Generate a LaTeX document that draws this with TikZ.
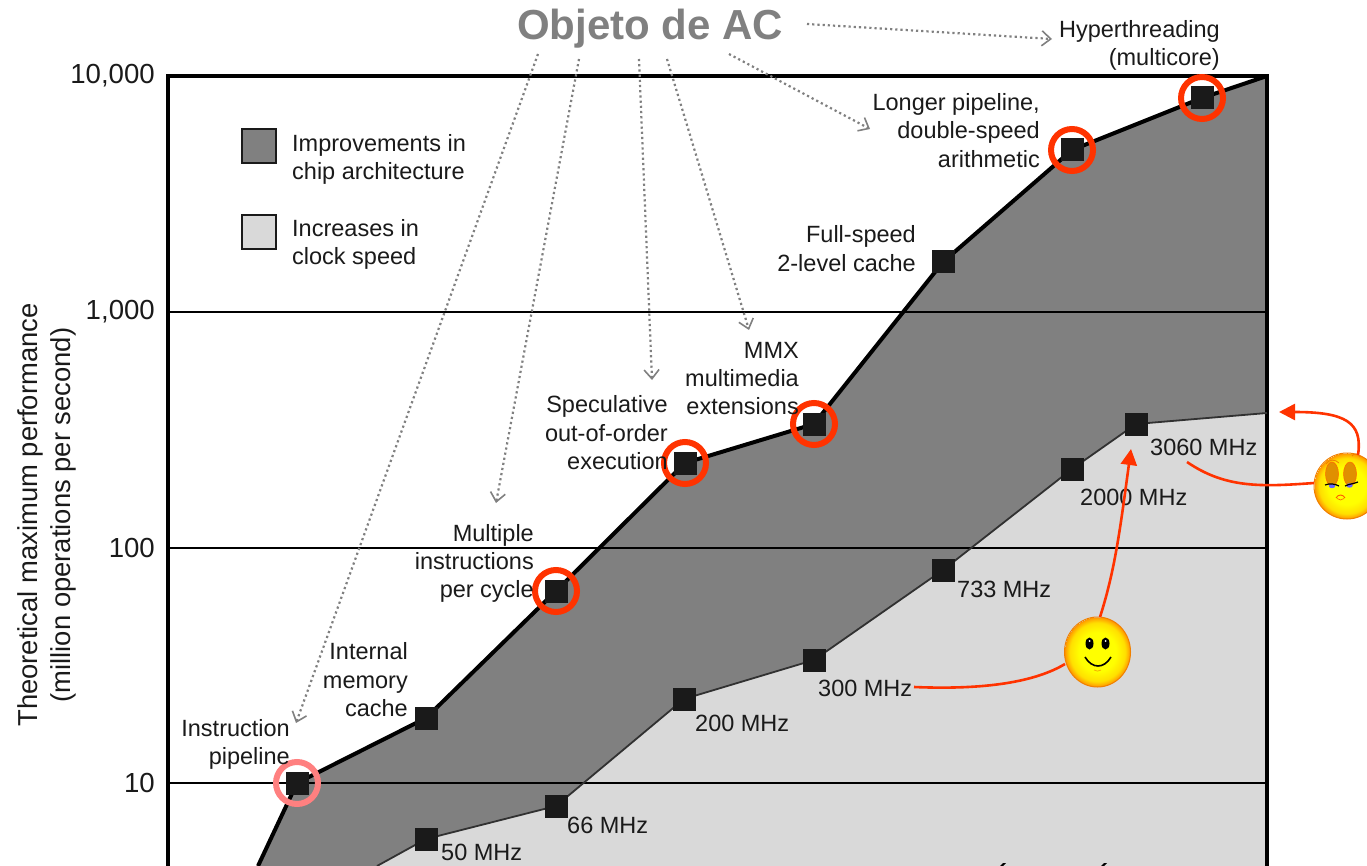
\documentclass[tikz,border=0pt]{standalone}
\usepackage{fontspec}
\setmainfont{Liberation Sans}
\usetikzlibrary{arrows.meta,shapes.geometric}
\definecolor{darkarea}{HTML}{808080}
\definecolor{lightarea}{HTML}{D9D9D9}
\definecolor{inkc}{HTML}{1A1A1A}
\definecolor{redc}{HTML}{FF3300}
\definecolor{pinkc}{HTML}{FF8080}
\definecolor{facee}{HTML}{F08000}
\definecolor{lidc}{HTML}{E09000}
\pgfdeclareradialshading{smile}{\pgfpoint{0bp}{0bp}}{color(0bp)=(yellow); color(14bp)=(yellow); color(21bp)=(yellow!75!orange); color(25bp)=(orange!85!yellow)}
\tikzset{
  x=1pt,y=-1pt,
  lbl/.style={inner sep=0pt,yshift=-0.6pt,font=\fontsize{23.5}{28.3}\selectfont,text=inkc},
  lblr/.style={lbl,align=right,anchor=east},
  lbll/.style={lbl,align=left,anchor=west},
  tick/.style={inner sep=0pt,yshift=-1pt,anchor=east,font=\fontsize{27.6}{30}\selectfont,text=inkc},
  axlab/.style={inner sep=0pt,rotate=90,font=\fontsize{27.4}{30}\selectfont,text=inkc},
  sq/.style={rectangle,fill=inkc,minimum size=23pt,inner sep=0pt},
  ring/.style={circle,draw=redc,line width=6pt,minimum size=42pt,inner sep=0pt},
  grid line/.style={line width=2pt,black},
  frame line/.style={line width=4pt,black},
  dots/.style={draw=darkarea,line width=2.2pt,dash pattern=on 2.2pt off 3pt,-{Straight Barb[length=9pt,width=15pt,line width=1.6pt]}},
  redline/.style={draw=redc,line width=2.6pt},
  redarrow/.style={redline,-{Triangle[length=16pt,width=16pt]}},
  face/.style={ellipse,shading=smile,draw=facee,line width=1pt,inner sep=0pt},
}
\begin{document}
\begin{tikzpicture}
\useasboundingbox (0,0) rectangle (1367,866);
% data points
\node[sq] (t1) at (297,783) {}; 
\coordinate (t2) at (426,718);
\coordinate (t3) at (556,591);
\coordinate (t4) at (685,463);
\coordinate (t5) at (814,424);
\coordinate (t6) at (943,262);
\coordinate (t7) at (1072,150);
\coordinate (t8) at (1202,98);
% areas
\fill[lightarea] (168,76) rectangle (1267,880);
\fill[darkarea] (258,866) -- (297,783) -- (t2) -- (t3) -- (t4) -- (t5) -- (t6) -- (t7) -- (t8) -- (1267,76) -- (1267,413) -- (1136,424) -- (1072,469) -- (943,570) -- (814,660) -- (684,699) -- (556,806) -- (426,839) -- (377,866) -- cycle;
\fill[white] (168,76) -- (1267,76) -- (t8) -- (t7) -- (t6) -- (t5) -- (t4) -- (t3) -- (t2) -- (297,783) -- (258,866) -- (168,866) -- cycle;
% grid
\coordinate (gl1) at (168,312); \coordinate (gr1) at (1267,312);
\coordinate (gl2) at (168,548); \coordinate (gr2) at (1267,548);
\coordinate (gl3) at (168,783); \coordinate (gr3) at (1267,783);
\draw[grid line] (gl1) -- (gr1);
\draw[grid line] (gl2) -- (gr2);
\draw[grid line] (gl3) -- (gr3);
% frame
\draw[frame line] (168,866) -- (168,76) -- (1267,76) -- (1267,866);
% curves
\coordinate (tstart) at (258,866);
\coordinate (tend) at (1267,76);
\coordinate (bstart) at (377,866);
\coordinate (bend) at (1267,413);
\draw[line width=4pt,black,line join=round] (tstart) -- (t1.center) -- (t2) -- (t3) -- (t4) -- (t5) -- (t6) -- (t7) -- (t8) -- (tend);
\draw[line width=1.8pt,inkc!90!white,line join=round] (bstart) -- (426,839) -- (556,806) -- (684,699) -- (814,660) -- (943,570) -- (1072,469) -- (1136,424) -- (bend);
% squares
\node[sq] at (t1) {};
\foreach \n/\p in {a2/t2,a3/t3,a4/t4,a5/t5,a6/t6,a7/t7,a8/t8}{\node[sq] (\n) at (\p) {};}
\foreach \n/\x/\y in {b1/426/839,b2/556/806,b3/684/699,b4/814/660,b5/943/570,b6/1072/469,b7/1136/424}{\node[sq] (\n) at (\x,\y) {};}
% rings
\node[ring,draw=pinkc] (r1) at (t1) {};
\foreach \n/\p in {r3/t3,r4/t4,r5/t5,r7/t7,r8/t8}{\node[ring] (\n) at (\p) {};}
% legend
\node[rectangle,draw=inkc,line width=1.6pt,fill=darkarea,minimum size=34pt,inner sep=0pt] (legd) at (259,146) {};
\node[rectangle,draw=inkc,line width=1.6pt,fill=lightarea,minimum size=34pt,inner sep=0pt] (legl) at (259,232) {};
\node[lbll] (legdt) at (292,159) {Improvements in\\chip architecture};
\node[lbll] (leglt) at (292,244) {Increases in\\clock speed};
% ticks
\node[tick] (y4) at (155,75) {10,000};
\node[tick] (y3) at (155,311) {1,000};
\node[tick] (y2) at (155,547) {100};
\node[tick] (y1) at (155,782) {10};
\node[axlab] (ya) at (30,515) {Theoretical maximum performance};
\node[axlab] (yb) at (63,515) {(million operations per second)};
% feature labels
\node[lblr] (lh) at (1220,45) {Hyperthreading\\(multicore)};
\node[lblr] (ll) at (1040,130) {Longer pipeline,\\double-speed\\arithmetic};
\node[lblr] (lf) at (916,248) {Full-speed\\2-level cache};
\node[lblr] (lm) at (799,378) {MMX\\multimedia\\extensions};
\node[lblr] (ls) at (668,432) {Speculative\\out-of-order\\execution};
\node[lblr] (lc) at (534,563) {Multiple\\instructions\\per cycle};
\node[lblr] (li) at (408,679) {Internal\\memory\\cache};
\node[lblr] (lp) at (290,744) {Instruction\\pipeline};
% clock labels
\node[lbll] (m1) at (441,852) {50 MHz};
\node[lbll] (m2) at (567,825) {66 MHz};
\node[lbll] (m3) at (695,723) {200 MHz};
\node[lbll] (m4) at (818,688) {300 MHz};
\node[lbll] (m5) at (957,589) {733 MHz};
\node[lbll] (m6) at (1080,497) {2000 MHz};
\node[lbll] (m7) at (1150,447) {3060 MHz};
% title
\node[inner sep=0pt,font=\fontsize{42}{46}\selectfont\bfseries,text=darkarea] (title) at (650,29) {Objeto de AC};
% dotted arrows
\coordinate (d1s) at (538,54); \coordinate (d1e) at (296,723);
\coordinate (d2s) at (579,59); \coordinate (d2e) at (496,503);
\coordinate (d3s) at (639,59); \coordinate (d3e) at (652,380);
\coordinate (d4s) at (667,59); \coordinate (d4e) at (749,330);
\coordinate (d5s) at (729,54); \coordinate (d5e) at (870,129);
\coordinate (d6s) at (807,24); \coordinate (d6e) at (1052,39);
\draw[dots] (d1s) -- (d1e);
\draw[dots] (d2s) -- (d2e);
\draw[dots] (d3s) -- (d3e);
\draw[dots] (d4s) -- (d4e);
\draw[dots] (d5s) -- (d5e);
\draw[dots] (d6s) -- (d6e);
% faces
\node[face,minimum width=66pt,minimum height=70pt] (happy) at (1097.5,652) {};
\node[face,minimum width=66pt,minimum height=66pt] (sad) at (1347,486) {};
% happy details
\fill[black] (1089.5,643.5) ellipse (4 and 6);
\fill[black] (1105.5,643.5) ellipse (4 and 6);
\fill[white] (1089.5,641) circle (1);
\fill[white] (1105.5,641) circle (1);
\draw[black,line width=1.6pt] (1085,657) .. controls (1092,669) and (1104,669) .. (1111,657);
\draw[facee!60!yellow,line width=.8pt] (1094,670) .. controls (1096,671.5) and (1099,671.5) .. (1101,670);
% sad details
\fill[lidc,draw=orange!80!red,line width=.5pt] (1332,474) ellipse (6.5 and 12);
\fill[lidc,draw=orange!80!red,line width=.5pt] (1350,474) ellipse (6.5 and 12);
\draw[facee,line width=.8pt] (1326,464) .. controls (1329,459) and (1335,459) .. (1339,463);
\draw[facee,line width=.8pt] (1352,456) .. controls (1354,453) and (1358,453) .. (1360,457);
\fill[blue!60!white] (1332,486) ellipse (3.2 and 2.2);
\fill[blue!60!white] (1349.5,485.5) ellipse (3.2 and 2.2);
\draw[black,line width=1.2pt] (1325,485) .. controls (1330,483) and (1335,484) .. (1339,486);
\draw[black,line width=1.2pt] (1345,486) .. controls (1349,484) and (1353,484) .. (1358,482);
\draw[orange!70!red,line width=.9pt] (1336,498) .. controls (1338,494) and (1343,494) .. (1345,498);
\draw[orange!70!red,line width=.6pt] (1337,498.5) .. controls (1339,500.5) and (1342,500.5) .. (1344,498.5);
% red connectors
\coordinate (m4e) at (914,687);
\coordinate (ar1) at (1131,449);
\coordinate (m7e) at (1187,462);
\coordinate (ar2) at (1279,412);
\coordinate (hl) at (1065,664);
\coordinate (ht) at (1100,617);
\coordinate (sl) at (1314,483);
\coordinate (st) at (1358,455);
\draw[redline] (m4e) .. controls (985,690) and (1035,682) .. (hl);
\draw[redarrow] (ht) .. controls (1115,570) and (1120,530) .. (ar1);
\draw[redline] (m7e) .. controls (1225,488) and (1260,487) .. (sl);
\draw[redarrow] (st) .. controls (1363,422) and (1345,412) .. (ar2);
% clipped accents at the lower edge
\fill[black] (1000,866) -- (1003,863) -- (1006,863) -- (1003,866) -- cycle;
\fill[black] (1101,866) -- (1104,863) -- (1107,863) -- (1104,866) -- cycle;
\end{tikzpicture}
\end{document}
